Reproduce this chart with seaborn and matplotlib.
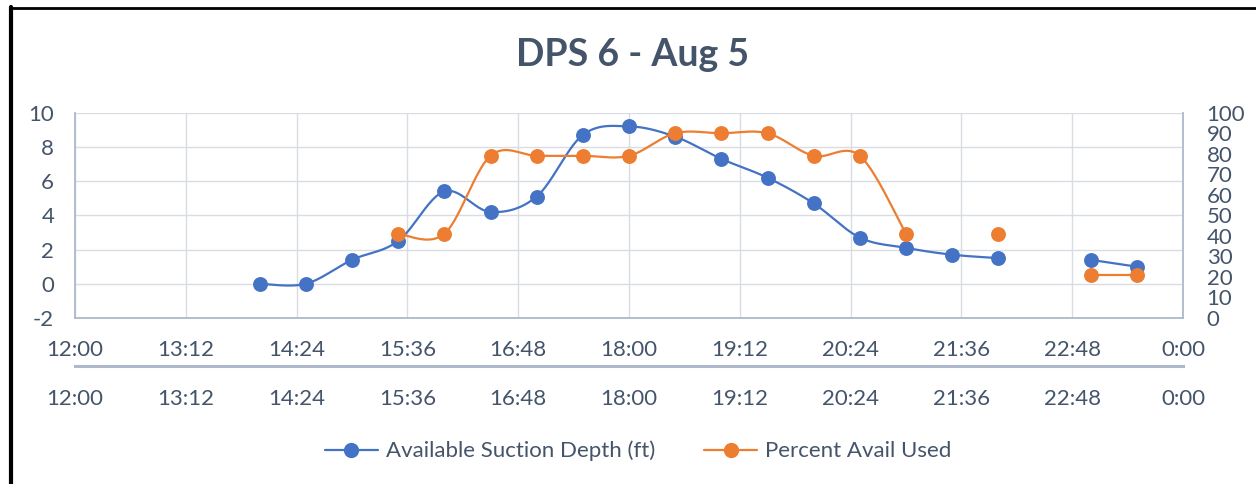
import numpy as np
import matplotlib
matplotlib.use("Agg")
import matplotlib.pyplot as plt
from matplotlib.lines import Line2D
import seaborn as sns

# ---- data -------------------------------------------------------------
times = ["14:00", "14:30", "15:00", "15:30", "16:00", "16:30", "17:00",
         "17:30", "18:00", "18:30", "19:00", "19:30", "20:00", "20:30",
         "21:00", "21:30", "22:00", "22:30", "23:00", "23:30"]
suction_depth = [0.0, 0.0, 1.4, 2.5, 5.4, 4.2, 5.1, 8.7, 9.2, 8.6,
                 7.3, 6.2, 4.7, 2.7, 2.1, 1.7, 1.5, None, 1.4, 1.0]
pct_used = [None, None, None, 41, 41, 79, 79, 79, 79, 90,
            90, 90, 79, 79, 41, None, 41, None, 21, 21]
x_tick_labels = ["12:00", "13:12", "14:24", "15:36", "16:48", "18:00",
                 "19:12", "20:24", "21:36", "22:48", "0:00"]
depth_ticks = [-2, 0, 2, 4, 6, 8, 10]
pct_ticks = [0, 10, 20, 30, 40, 50, 60, 70, 80, 90, 100]

title = "DPS 6 - Aug 5"
depth_label = "Available Suction Depth (ft)"
pct_label = "Percent Avail Used"

BLUE = "#4472C4"
ORANGE = "#ED7D31"
TEXT = "#44546A"
GRID = "#D9DDE3"
AXIS = "#ADB9CA"


def to_hours(s):
    h, m = s.split(":")
    h = int(h)
    if h == 0:
        h = 24
    return h + int(m) / 60.0


def smooth_curve(xs, ys, n=40):
    """Cubic Bezier smoothing through the points (spreadsheet-style)."""
    pts = np.column_stack([xs, ys]).astype(float)
    if len(pts) < 2:
        return pts
    P = np.vstack([pts[0], pts, pts[-1]])
    t = np.linspace(0, 1, n)[:, None]
    out = []
    for i in range(1, len(P) - 2):
        p0, p1, p2, p3 = P[i - 1], P[i], P[i + 1], P[i + 2]
        c1 = p1 + (p2 - p0) / 6.0
        c2 = p2 - (p3 - p1) / 6.0
        seg = ((1 - t) ** 3 * p1 + 3 * (1 - t) ** 2 * t * c1
               + 3 * (1 - t) * t ** 2 * c2 + t ** 3 * p2)
        out.append(seg if i == 1 else seg[1:])
    return np.vstack(out)


def runs(xs, ys):
    """Split a series into contiguous runs of non-missing values."""
    cur_x, cur_y = [], []
    for x, y in zip(xs, ys):
        if y is None:
            if cur_x:
                yield cur_x, cur_y
            cur_x, cur_y = [], []
        else:
            cur_x.append(x)
            cur_y.append(y)
    if cur_x:
        yield cur_x, cur_y


def draw_series(ax, xs, ys, color):
    for rx, ry in runs(xs, ys):
        if len(rx) > 1:
            c = smooth_curve(rx, ry)
            sns.lineplot(x=c[:, 0], y=c[:, 1], sort=False, estimator=None,
                         color=color, linewidth=1.6, ax=ax, zorder=2)
    px = [x for x, y in zip(xs, ys) if y is not None]
    py = [y for y in ys if y is not None]
    sns.scatterplot(x=px, y=py, color=color, s=115, linewidth=0,
                    ax=ax, zorder=3)


sns.set_theme(style="white")
plt.rcParams["font.family"] = ["Lato", "DejaVu Sans"]
plt.rcParams["axes.unicode_minus"] = False

x_hours = [to_hours(t) for t in times]
tick_pos = [to_hours(t) for t in x_tick_labels]

fig = plt.figure(figsize=(12.56, 4.84), dpi=100)
ax = fig.add_axes([75 / 1256, 1 - 318 / 484, (1183 - 75) / 1256, (318 - 112.7) / 484])

ax.set_xlim(12, 24)
ax.set_ylim(-2, 10)
ax.set_xticks(tick_pos)
ax.set_xticklabels(x_tick_labels)
ax.set_yticks(depth_ticks)
ax.grid(True, color=GRID, linewidth=1.0)
ax.set_axisbelow(True)
for side in ["left", "bottom", "right"]:
    ax.spines[side].set_color(AXIS)
    ax.spines[side].set_linewidth(1.3)
ax.spines["top"].set_visible(False)
ax.tick_params(axis="both", length=0, labelsize=16, labelcolor=TEXT)
ax.tick_params(axis="x", pad=15.5)
ax.tick_params(axis="y", pad=15)

draw_series(ax, x_hours, suction_depth, BLUE)
ax.set_xlabel("")
ax.set_ylabel("")

ax2 = ax.twinx()
ax2.set_ylim(0, 100)
ax2.set_yticks(pct_ticks)
ax2.grid(False)
for side in ["left", "bottom", "top", "right"]:
    ax2.spines[side].set_visible(False)
ax2.tick_params(axis="y", length=0, labelsize=16, labelcolor=TEXT, pad=17)
draw_series(ax2, x_hours, pct_used, ORANGE)
ax2.set_ylabel("")
ax2.set_xlim(12, 24)

# second row of time labels on its own axis line
sec = ax.secondary_xaxis(-48 / 205.3)
sec.set_xticks(tick_pos)
sec.set_xticklabels(x_tick_labels)
sec.spines["bottom"].set_color(AXIS)
sec.spines["bottom"].set_linewidth(2.2)
sec.spines["top"].set_visible(False)
sec.tick_params(axis="x", length=0, labelsize=16, labelcolor=TEXT, pad=16.5)

fig.text(633 / 1256, 1 - 55 / 484, title, ha="center", va="center",
         fontsize=27, fontweight="bold", color=TEXT)

handles = [
    Line2D([], [], color=BLUE, lw=1.6, marker="o", markersize=11, markeredgewidth=0),
    Line2D([], [], color=ORANGE, lw=1.6, marker="o", markersize=11, markeredgewidth=0),
]
leg = fig.legend(handles, [depth_label, pct_label], loc="center",
                 bbox_to_anchor=(638 / 1256, 1 - 451 / 484), ncol=2,
                 frameon=False, fontsize=16, handlelength=2.4,
                 handletextpad=0.35, columnspacing=2.2)
for txt in leg.get_texts():
    txt.set_color(TEXT)

# outer frame lines on the top and left edges
fig.add_artist(Line2D([11 / 1256, 1], [1 - 8 / 484, 1 - 8 / 484],
                      transform=fig.transFigure, color="black", lw=2.0))
fig.add_artist(Line2D([11 / 1256, 11 / 1256], [0, 1 - 7 / 484],
                      transform=fig.transFigure, color="black", lw=3.0))

fig.savefig("out.png", dpi=100, facecolor="white")
